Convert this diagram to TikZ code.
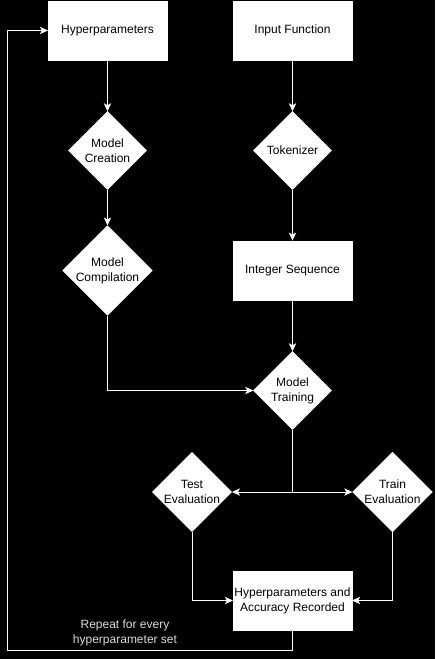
\documentclass[tikz,border=0pt]{standalone}
\usepackage{fontspec}
\setmainfont{Liberation Sans}
\usetikzlibrary{shapes,arrows.meta}
\usetikzlibrary{positioning}
\definecolor{labelgray}{rgb}{0.86, 0.86, 0.86}

\begin{document}
\begin{tikzpicture}[x=0.75pt, y=-0.75pt,
    box/.style={draw=white, fill=white, rectangle, minimum width=89pt, minimum height=44.5pt, inner sep=0pt, align=center, font=\fontsize{9pt}{11.25pt}\selectfont},
    decision/.style={draw=white, fill=white, diamond, minimum width=58.5pt, minimum height=58.5pt, inner sep=0pt, align=center, font=\fontsize{9pt}{11.25pt}\selectfont},
    flow/.style={draw=white, line width=0.75pt, -{Stealth[length=6pt, width=5.5pt, inset=1.5pt]}}]

    \useasboundingbox[fill=black] (0,0) rectangle (435,659);

    \node[box] (hyper) at (107.5, 30.5) {Hyperparameters};
    \node[box] (input) at (292.5, 30.5) {Input Function};

    \node[decision] (create) at (107.5, 150.5) {Model\\Creation};
    \node[decision] (token) at (292.5, 150.5) {Tokenizer};

    \node[decision, minimum width=65pt, minimum height=65pt] (compile) at (107.5, 270.5) {Model\\Compilation};
    \node[box] (intseq) at (292.5, 270.5) {Integer Sequence};

    \node[decision] (train) at (292.5, 390.5) {Model\\Training};

    \node[decision] (testeval) at (192, 492) {Test\\Evaluation};
    \node[decision] (traineval) at (392.5, 492) {Train\\Evaluation};

    \node[box] (record) at (292.5, 600.5) {Hyperparameters and\\Accuracy Recorded};

    \coordinate (split) at (292.5, 492);
    \coordinate (loop) at (7, 650);

    \draw[flow] (hyper) -- (create);
    \draw[flow] (create) -- (compile);
    \draw[flow] (input) -- (token);
    \draw[flow] (token) -- (intseq);
    \draw[flow] (intseq) -- (train);
    \draw[flow] (compile.south) |- (train.west);

    \draw[draw=white, line width=0.75pt] (train.south) -- (split);
    \draw[flow] (split) -- (testeval.east);
    \draw[flow] (split) -- (traineval.west);

    \draw[flow] (testeval.south) |- (record.west);
    \draw[flow] (traineval.south) |- (record.east);

    \draw[flow] (record.south) |- (loop) |- (hyper.west);
    \node[text=labelgray, align=center, font=\fontsize{9pt}{11.25pt}\selectfont] (repeat) at (125, 632.5) {Repeat for every\\hyperparameter set};

  \end{tikzpicture}
\end{document}
